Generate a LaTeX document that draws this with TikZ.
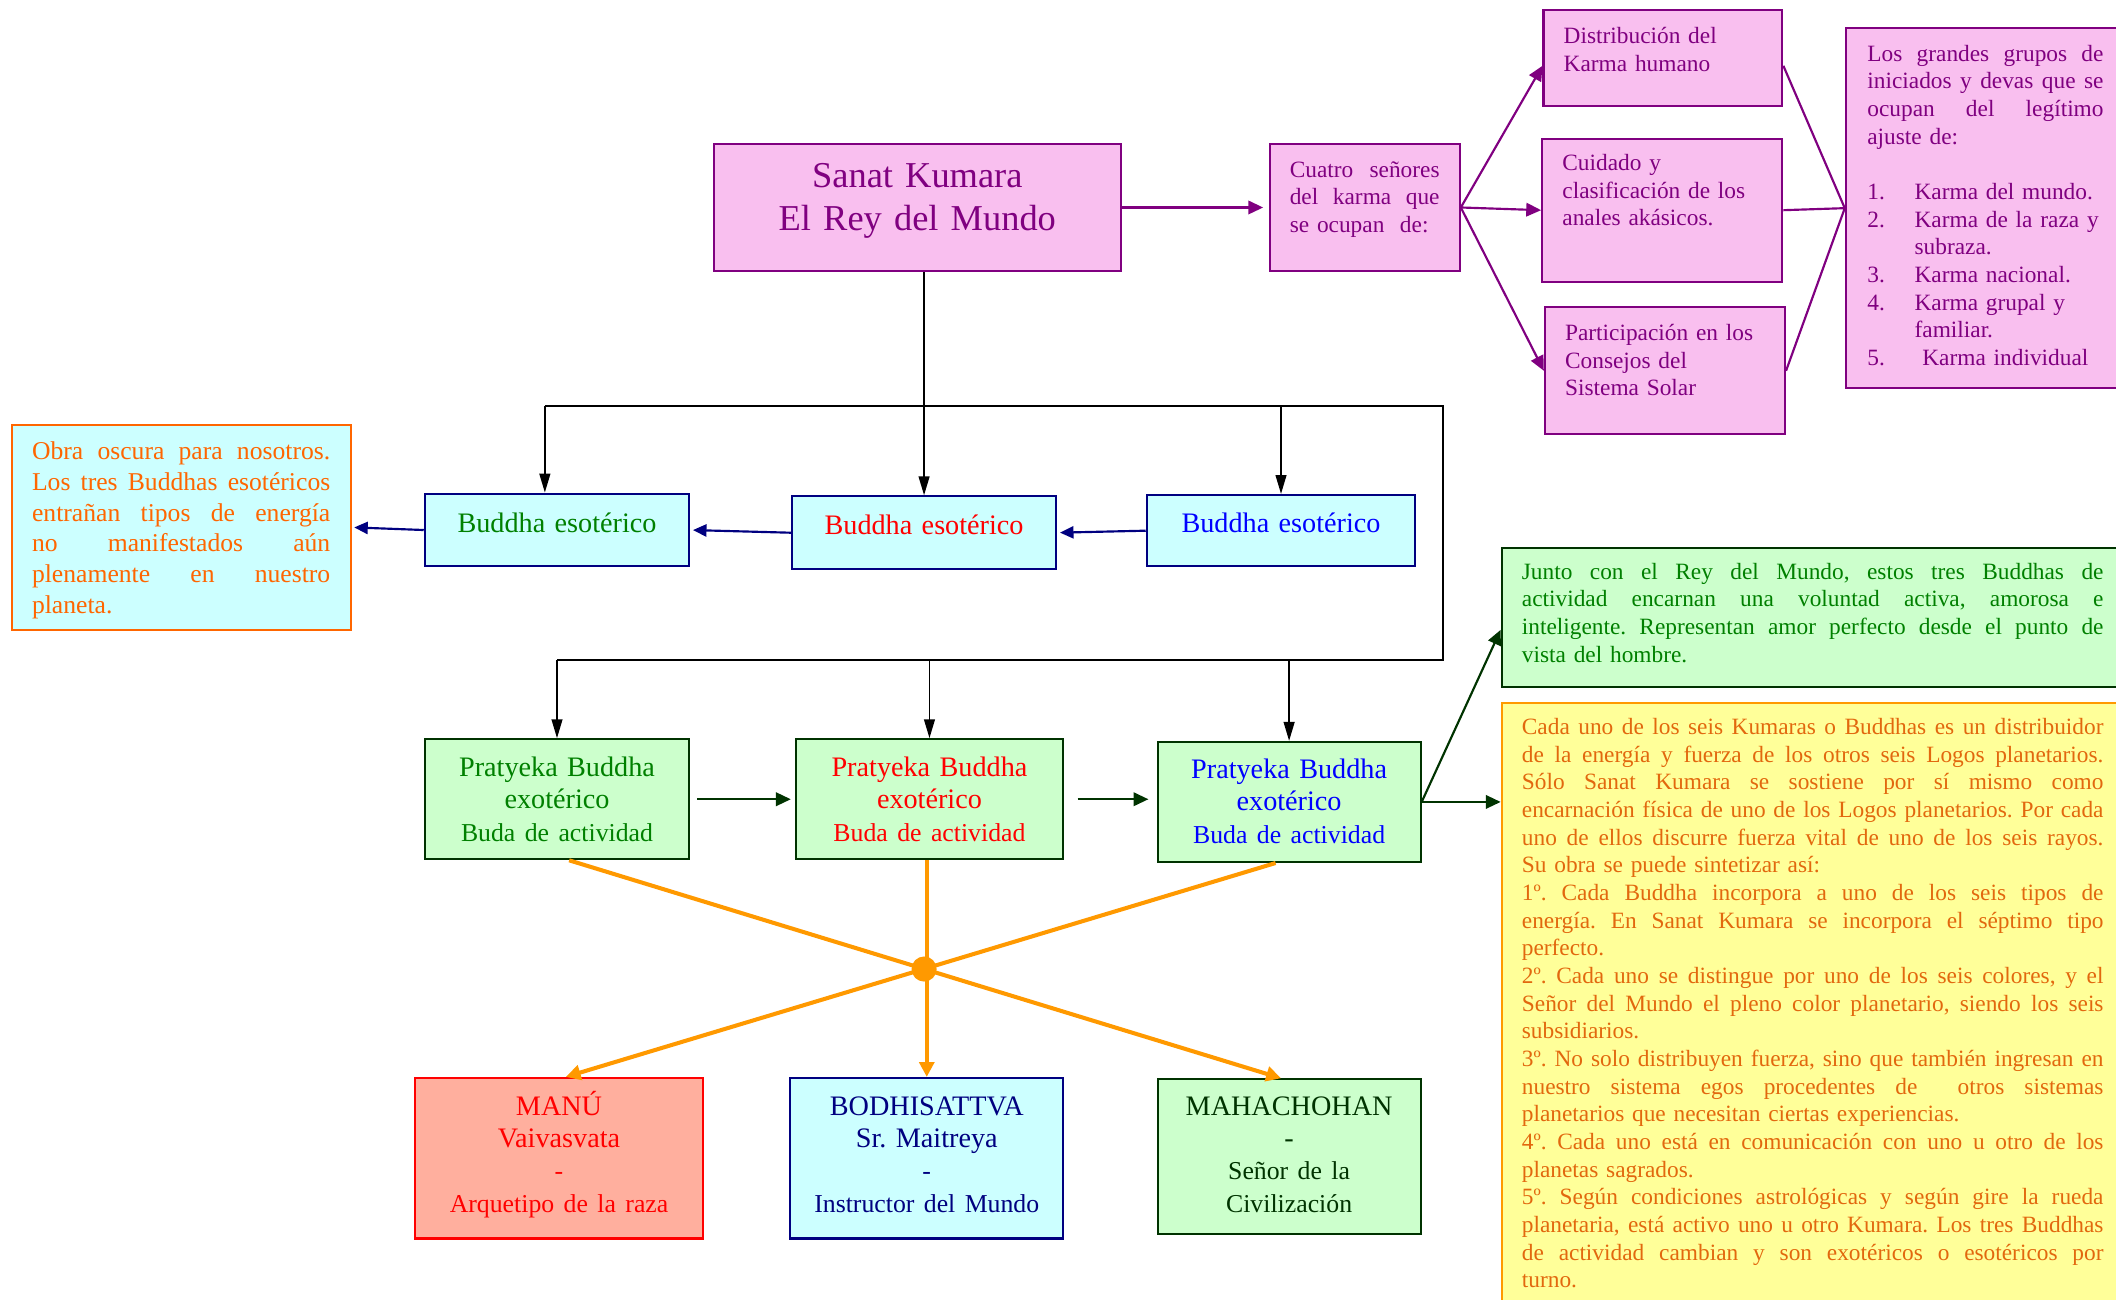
\documentclass[tikz,border=0pt]{standalone}
\usepackage{fontspec}
\setmainfont{Liberation Serif}
\usetikzlibrary{arrows.meta}
\frenchspacing

\definecolor{kpink}{RGB}{249,191,239}
\definecolor{kpurple}{RGB}{128,0,128}
\definecolor{kcyan}{RGB}{204,255,255}
\definecolor{knavy}{RGB}{0,0,128}
\definecolor{klgreen}{RGB}{204,255,204}
\definecolor{kdgreen}{RGB}{0,51,0}
\definecolor{kgreen}{RGB}{0,128,0}
\definecolor{kred}{RGB}{255,0,0}
\definecolor{kblue}{RGB}{0,0,255}
\definecolor{korange}{RGB}{255,102,0}
\definecolor{ksalmon}{RGB}{255,175,158}
\definecolor{kyellow}{RGB}{255,255,153}
\definecolor{kgold}{RGB}{255,153,0}
\definecolor{kbrown}{RGB}{226,104,14}

\newcommand{\fstitle}{\fontsize{27pt}{32pt}\selectfont}
\newcommand{\fsbig}{\fontsize{20.9pt}{24pt}\selectfont}
\newcommand{\fssub}{\fontsize{19.1pt}{24pt}\selectfont}
\newcommand{\fsobra}{\fontsize{19pt}{22.7pt}\selectfont}
\newcommand{\fsbody}{\fontsize{17.3pt}{20.5pt}\selectfont}
\newcommand{\jline}[1]{\makebox[\hsize][s]{\spaceskip=.25em plus .6em minus .1em\relax #1}}
\newcommand{\kitem}[2]{\mbox{\makebox[35pt][l]{#1}#2}}

\begin{document}
\begin{tikzpicture}[
    x=1pt, y=-1pt,
    box/.style={draw, line width=1.5pt, anchor=north west, inner xsep=0pt, inner ysep=0pt},
    pinkbox/.style={box, draw=kpurple, fill=kpink, text=kpurple},
    cyanbox/.style={box, draw=knavy, fill=kcyan},
    greenbox/.style={box, draw=kdgreen, fill=klgreen},
    note/.style={align=left, inner xsep=15pt, font=\fsbody},
    blackline/.style={line width=1.3pt},
    blackarrow/.style={blackline, -{Triangle[length=14pt,width=8pt]}},
    purpleline/.style={line width=1.6pt, kpurple},
    purplearrow/.style={purpleline, -{Triangle[length=11pt,width=10pt]}},
    bluearrow/.style={line width=1.6pt, knavy, -{Triangle[length=10pt,width=9pt]}, shorten >=2pt},
    greenarrow/.style={line width=1.6pt, kdgreen, -{Triangle[length=11pt,width=10pt]}},
    orangearrow/.style={line width=3pt, kgold, -{Triangle[length=11pt,width=11pt]}}
  ]
  \useasboundingbox (0,0) rectangle (1568,963);
  \clip (0,0) rectangle (1568,963);

  % Sanat Kumara and the lords of karma (top)
  \node[pinkbox, font=\fstitle, align=center, text width=302pt, text height=32pt, text depth=62pt] (sanat) at (528,106) {Sanat Kumara\\El Rey del Mundo};
  \node[pinkbox, note, text width=111pt, text height=24.5pt, text depth=69.5pt] (cuatro) at (940,106) {\jline{Cuatro señores}\\\jline{del karma que}\\\mbox{se ocupan\ \ de:}};

  \node[pinkbox, note, text width=147pt, text height=24.5pt, text depth=46.5pt] (dist) at (1143,7) {Distribución del\\Karma humano};
  \node[pinkbox, note, text width=148pt, text height=23.5pt, text depth=82.5pt] (cuidado) at (1142,102) {Cuidado y\\\mbox{clasificación de los}\\anales akásicos.};
  \node[pinkbox, note, text width=148pt, text height=24.5pt, text depth=69.5pt] (partic) at (1144,227) {\mbox{Participación en los}\\Consejos del\\Sistema Solar};

  \node[pinkbox, note, inner xsep=16pt, text width=175pt, text height=24.5pt, text depth=242.5pt] (grandes) at (1367,20) {\jline{Los grandes grupos de}\\\jline{iniciados y devas que se}\\\jline{ocupan del legítimo}\\ajuste de:\\[20.5pt]\kitem{1.}{Karma del mundo.}\\\kitem{2.}{Karma de la raza y}\\\kitem{}{subraza.}\\\kitem{3.}{Karma nacional.}\\\kitem{4.}{Karma grupal y}\\\kitem{}{familiar.}\\\kitem{5.}{\ Karma individual}};

  \draw[purplearrow, shorten >=4pt] (sanat.east) -- (cuatro.west);
  \coordinate (fan) at (cuatro.east);
  \draw[purplearrow] (fan) -- ([yshift=-5.5pt]dist.west);
  \draw[purplearrow] (fan) -- (cuidado.west);
  \draw[purplearrow] (fan) -- (partic.west);
  \draw[purpleline] ([yshift=-5.5pt]dist.east) -- (grandes.west);
  \draw[purpleline] (cuidado.east) -- (grandes.west);
  \draw[purpleline] (partic.east) -- (grandes.west);

  % esoteric Buddhas
  \node[cyanbox, draw=korange, text=korange, note, font=\fsobra, text width=221pt, text height=26pt, text depth=126pt] (obra) at (8,314) {\jline{Obra oscura para nosotros.}\\\jline{Los tres Buddhas esotéricos}\\\jline{entrañan tipos de energía}\\\jline{no manifestados aún}\\\jline{plenamente en nuestro}\\planeta.};

  \node[cyanbox, text=kgreen, font=\fsbig, align=center, text width=196pt, text height=28.5pt, text depth=25.5pt] (besg) at (314,365) {Buddha esotérico};
  \node[cyanbox, text=kred, font=\fsbig, align=center, text width=196pt, text height=28.5pt, text depth=25.5pt] (besr) at (586,367) {Buddha esotérico};
  \node[cyanbox, text=kblue, font=\fsbig, align=center, text width=199pt, text height=28pt, text depth=25pt] (besb) at (849,366) {Buddha esotérico};

  \draw[bluearrow] (besb.west) -- (besr.east);
  \draw[bluearrow] (besr.west) -- (besg.east);
  \draw[bluearrow] (besg.west) -- (obra.east);

  % exoteric Buddhas of activity
  \node[greenbox, text=kgreen, font=\fsbig, align=center, text width=196pt, text height=27.5pt, text depth=61.5pt] (pg) at (314,547) {Pratyeka Buddha\\exotérico\\{\fssub Buda de actividad}};
  \node[greenbox, text=kred, font=\fsbig, align=center, text width=198pt, text height=27.5pt, text depth=61.5pt] (pr) at (589,547) {Pratyeka Buddha\\exotérico\\{\fssub Buda de actividad}};
  \node[greenbox, text=kblue, font=\fsbig, align=center, text width=195pt, text height=27pt, text depth=62pt] (pb) at (857,549) {Pratyeka Buddha\\exotérico\\{\fssub Buda de actividad}};

  % black buses from Sanat Kumara
  \coordinate (topbus) at (1069,301);
  \coordinate (lowbus) at (1069,489);
  \draw[blackarrow] (sanat.south -| besr.north) -- (besr.north);
  \draw[blackline] ([xshift=-9pt]besg.north |- topbus) -- (topbus) -- (lowbus) -- (pg.north |- lowbus);
  \draw[blackarrow] ([xshift=-9pt]besg.north |- topbus) -- ([xshift=-9pt]besg.north);
  \draw[blackarrow] (besb.north |- topbus) -- (besb.north);
  \draw[blackarrow] (pg.north |- lowbus) -- (pg.north);
  \draw[blackarrow] (pr.north |- lowbus) -- (pr.north);
  \draw[blackarrow] (pb.north |- lowbus) -- (pb.north);

  \draw[greenarrow, shorten <=5pt, shorten >=3pt] (pg.east) -- (pr.west);
  \draw[greenarrow, shorten <=10pt, shorten >=6pt] (pr.east) -- (pr.east -| pb.west);

  % notes on the right
  \node[greenbox, text=kgreen, note, text width=431pt, text height=23.5pt, text depth=79.5pt] (junto) at (1112,405) {\jline{Junto con el Rey del Mundo, estos tres Buddhas de}\\\jline{actividad encarnan una voluntad activa, amorosa e}\\\jline{inteligente. Representan amor perfecto desde el punto de}\\vista del hombre.};

  \node[box, draw=kgold, fill=kyellow, text=kbrown, note, text width=431pt, text height=23.5pt, text depth=446.5pt] (kumaras) at (1112,520) {\jline{Cada uno de los seis Kumaras o Buddhas es un distribuidor}\\
    \jline{de la energía y fuerza de los otros seis Logos planetarios.}\\
    \jline{Sólo Sanat Kumara se sostiene por sí mismo como}\\
    \jline{encarnación física de uno de los Logos planetarios. Por cada}\\
    \jline{uno de ellos discurre fuerza vital de uno de los seis rayos.}\\
    Su obra se puede sintetizar así:\\
    \jline{1º. Cada Buddha incorpora a uno de los seis tipos de}\\
    \jline{energía. En Sanat Kumara se incorpora el séptimo tipo}\\
    perfecto.\\
    \jline{2º. Cada uno se distingue por uno de los seis colores, y el}\\
    \jline{Señor del Mundo el pleno color planetario, siendo los seis}\\
    subsidiarios.\\
    \jline{3º. No solo distribuyen fuerza, sino que también ingresan en}\\
    \jline{nuestro sistema egos procedentes de\ \ otros sistemas}\\
    \mbox{planetarios que necesitan ciertas experiencias.}\\
    \jline{4º. Cada uno está en comunicación con uno u otro de los}\\
    planetas sagrados.\\
    \jline{5º. Según condiciones astrológicas y según gire la rueda}\\
    \jline{planetaria, está activo uno u otro Kumara. Los tres Buddhas}\\
    \jline{de actividad cambian y son exotéricos o esotéricos por}\\
    turno.};

  \draw[greenarrow] (pb.east) -- ([yshift=-9.5pt]junto.west);
  \draw[greenarrow] (pb.east) -- (pb.east -| kumaras.west);

  % the three departments (bottom)
  \node[box, draw=kred, fill=ksalmon, text=kred, font=\fsbig, align=center, text width=213pt, text height=27.5pt, text depth=91.5pt] (manu) at (307,798) {MANÚ\\Vaivasvata\\{\fssub -}\\{\fssub Arquetipo de la raza}};
  \node[cyanbox, text=knavy, font=\fsbig, align=center, text width=202pt, text height=27.5pt, text depth=91.5pt] (bodhi) at (585,798) {BODHISATTVA\\Sr. Maitreya\\{\fssub -}\\{\fssub Instructor del Mundo}};
  \node[greenbox, text=kdgreen, font=\fsbig, align=center, text width=195pt, text height=26.5pt, text depth=88.5pt] (maha) at (857,799) {MAHACHOHAN\\-\\{\fssub Señor de la}\\{\fssub Civilización}};

  \coordinate (ga) at ([xshift=9pt]pg.south);
  \coordinate (ba) at ([xshift=-10pt]pb.south);
  \coordinate (mh) at ([xshift=-6pt]maha.north);
  \coordinate (mn) at ([xshift=5pt]manu.north);
  \draw[orangearrow] (ga) -- (mh);
  \draw[orangearrow] (ba) -- (mn);
  \draw[orangearrow, line width=2.7pt] (bodhi.north |- pr.south) -- (bodhi.north);
  \fill[kgold] (intersection of ga--mh and ba--mn) circle (9.3pt);

\end{tikzpicture}
\end{document}
